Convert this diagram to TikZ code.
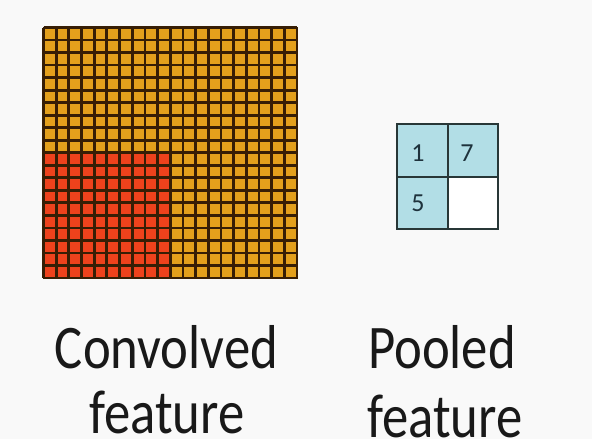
\documentclass[tikz,border=0pt]{standalone}
\usepackage{fontspec}
\newfontfamily\labfont[FakeStretch=0.85]{Carlito}
\newfontfamily\numfont{Carlito}
\definecolor{bgc}{RGB}{249,249,249}
\definecolor{orangec}{RGB}{228,160,28}
\definecolor{redc}{RGB}{238,66,28}
\definecolor{gridc}{RGB}{55,30,5}
\definecolor{poolc}{RGB}{178,222,230}
\definecolor{poolline}{RGB}{40,55,55}
\definecolor{numc}{RGB}{30,50,60}
\begin{document}
\begin{tikzpicture}[x=1pt,y=-1pt,
  lab/.style={font=\labfont\fontsize{62}{68}\selectfont, anchor=base, inner sep=0pt, text=black!90},
  num/.style={font=\numfont\fontsize{26}{28}\selectfont, anchor=base, inner sep=0pt, text=numc}]
\fill[bgc] (0,0) rectangle (592,439);
\useasboundingbox (0,0) rectangle (592,439);
% convolved feature grid
\fill[orangec] (43.5,27.5) rectangle (297,278);
\fill[redc] (43.5,153) rectangle (170.5,278);
\foreach \i in {0,...,20} {
  \draw[gridc, line width=2.8pt] ({43.5+\i*12.675},27.5) -- ({43.5+\i*12.675},278);
  \draw[gridc, line width=2.8pt] (43.5,{27.5+\i*12.525}) -- (297,{27.5+\i*12.525});
}
\draw[gridc, line width=1.5pt] (43.5,27.5) rectangle (297,278);
% pooled feature
\fill[poolc] (397,124) rectangle (498,229);
\fill[white] (448,177) rectangle (498,229);
\draw[poolline, line width=1.6pt] (397,124) rectangle (498,229);
\draw[poolline, line width=1.6pt] (448,124) -- (448,229);
\draw[poolline, line width=1.6pt] (397,177) -- (498,177);
\node[num] (n1) at (418,161) {1};
\node[num] (n7) at (467,161) {7};
\node[num] (n5) at (418,211) {5};
% labels
\node[lab] (conv1) at (166.5,368) {Convolved};
\node[lab] (conv2) at (167,433) {feature};
\node[lab] (pool1) at (442,368) {Pooled};
\node[lab] (pool2) at (445,437) {feature};
\end{tikzpicture}
\end{document}
